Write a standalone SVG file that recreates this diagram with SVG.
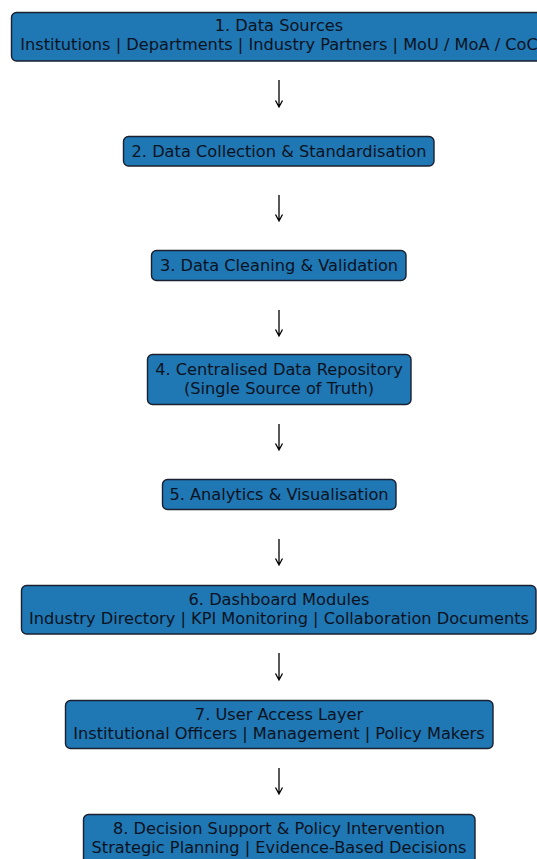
<svg xmlns="http://www.w3.org/2000/svg" width="537" height="859" viewBox="0 0 537 859">
<style>
.box{fill:#1f77b4;stroke:#1a2030;stroke-width:1.4}
.t{font-family:"DejaVu Sans",sans-serif;font-size:16.2px;fill:#0b1220;text-anchor:middle}
.c{stroke:#000;stroke-width:1.3;fill:none}
</style>
<rect x="0" y="0" width="537" height="859" fill="#fff"/>
<g id="n1"><rect class="box" x="11.5" y="12.5" width="535" height="48.5" rx="5"/>
<text class="t" x="279" y="30.5">1. Data Sources</text>
<text class="t" x="279" y="49.5">Institutions | Departments | Industry Partners | MoU / MoA / CoC</text></g>
<g id="n2"><rect class="box" x="123.5" y="136.5" width="310.5" height="29.5" rx="5"/>
<text class="t" x="279" y="156.5">2. Data Collection &amp; Standardisation</text></g>
<g id="n3"><rect class="box" x="151.5" y="250.5" width="254.5" height="30" rx="5"/>
<text class="t" x="279" y="271">3. Data Cleaning &amp; Validation</text></g>
<g id="n4"><rect class="box" x="147.5" y="354.5" width="263.5" height="50" rx="5"/>
<text class="t" x="279" y="374.5">4. Centralised Data Repository</text>
<text class="t" x="279" y="393.5">(Single Source of Truth)</text></g>
<g id="n5"><rect class="box" x="162.5" y="479.5" width="233.5" height="30" rx="5"/>
<text class="t" x="279" y="500">5. Analytics &amp; Visualisation</text></g>
<g id="n6"><rect class="box" x="21.5" y="585.5" width="514.5" height="48.5" rx="5"/>
<text class="t" x="279" y="604.5">6. Dashboard Modules</text>
<text class="t" x="279" y="623.5">Industry Directory | KPI Monitoring | Collaboration Documents</text></g>
<g id="n7"><rect class="box" x="65.5" y="700.5" width="427.5" height="48" rx="5"/>
<text class="t" x="279" y="719.5">7. User Access Layer</text>
<text class="t" x="279" y="738.5">Institutional Officers | Management | Policy Makers</text></g>
<g id="n8"><rect class="box" x="83.5" y="814.5" width="391.5" height="55" rx="5"/>
<text class="t" x="279" y="833.5">8. Decision Support &amp; Policy Intervention</text>
<text class="t" x="279" y="852.5">Strategic Planning | Evidence-Based Decisions</text></g>
<g id="connectors">
<path class="c" d="M279 80V107M275.5 100.5L279 107L282.5 100.5"/>
<path class="c" d="M279 195V221M275.5 214.5L279 221L282.5 214.5"/>
<path class="c" d="M279 310V336M275.5 329.5L279 336L282.5 329.5"/>
<path class="c" d="M279 424V450M275.5 443.5L279 450L282.5 443.5"/>
<path class="c" d="M279 539V565M275.5 558.5L279 565L282.5 558.5"/>
<path class="c" d="M279 653V680M275.5 673.5L279 680L282.5 673.5"/>
<path class="c" d="M279 768V794M275.5 787.5L279 794L282.5 787.5"/>
</g>
</svg>
